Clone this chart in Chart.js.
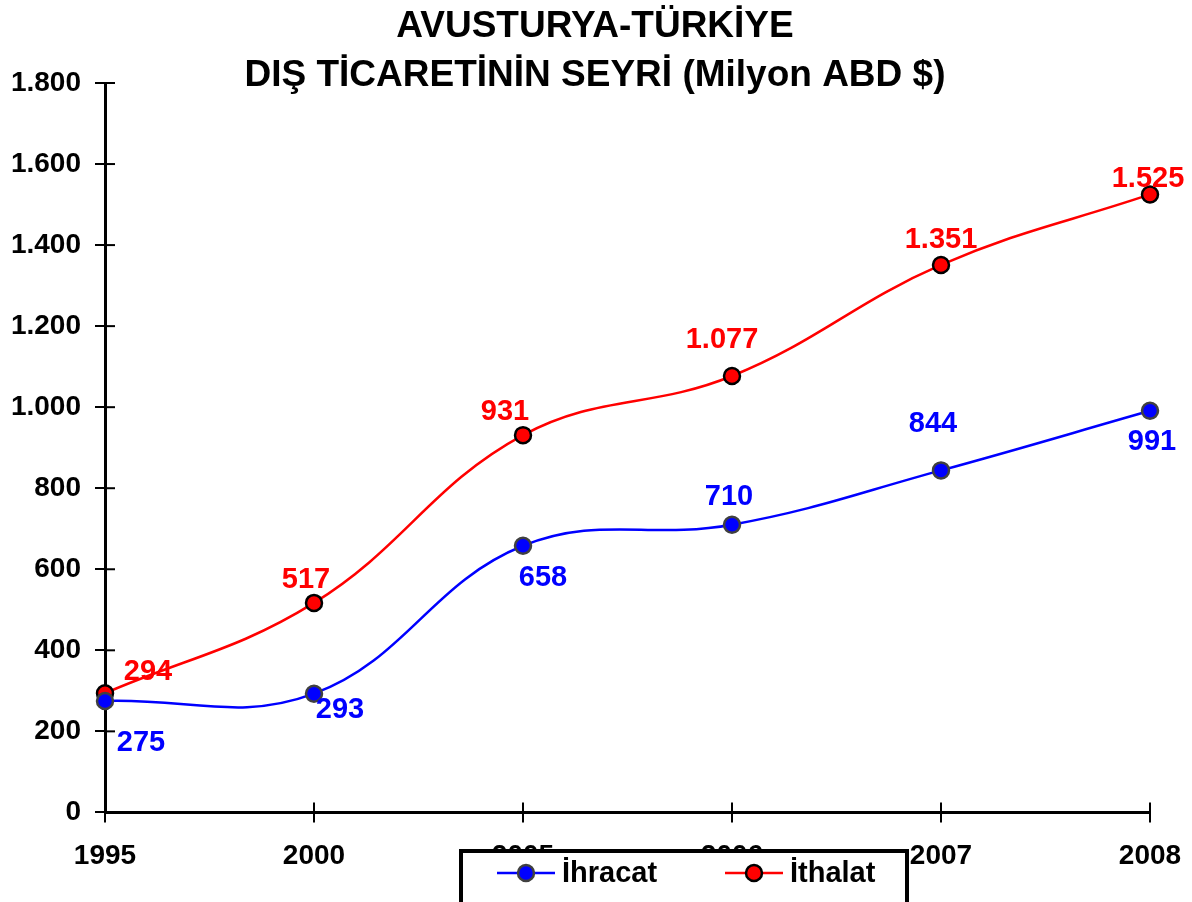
<!DOCTYPE html>
<html lang="tr">
<head>
<meta charset="utf-8">
<title>Avusturya-Türkiye Dış Ticareti</title>
<script src="https://cdn.jsdelivr.net/npm/chart.js@4/dist/chart.umd.min.js"></script>
<style>
    html, body { margin: 0; padding: 0; background: #fff; }
    #wrap { width: 1192px; height: 902px; position: relative; }
</style>
</head>
<body>
<div id="wrap"><canvas id="tradeChart" width="1192" height="902"></canvas></div>
<script>
// ----- DATI -----
const years = ['1995', '2000', '2005', '2006', '2007', '2008'];
const ihracat = [275, 293, 658, 710, 844, 991];
const ithalat = [294, 517, 931, 1077, 1351, 1525];
const yTicks = [0, 200, 400, 600, 800, 1000, 1200, 1400, 1600, 1800];
const titleLines = ['AVUSTURYA-TÜRKİYE', 'DIŞ TİCARETİNİN SEYRİ (Milyon ABD $)'];

// spostamento delle etichette rispetto al punto (dx, dy)
const ihracatLabelOffset = [[36, 42], [26, 16], [20, 32], [-3, -28], [-8, -46], [2, 31]];
const ithalatLabelOffset = [[43, -21], [-8, -23], [-18, -23], [-10, -36], [0, -25], [-2, -15]];

document.addEventListener('DOMContentLoaded', () => {
    const FONT = '"Liberation Sans", Arial, sans-serif';

    // numeri con punto per le migliaia (1.800)
    function fmt(v) {
        return String(v).replace(/\B(?=(\d{3})+(?!\d))/g, '.');
    }

    // titolo su due righe, sovrapposto all'area del grafico come nell'originale
    const titlePlugin = {
        id: 'titlePlugin',
        afterDraw(chart) {
            const ctx = chart.ctx;
            ctx.save();
            ctx.fillStyle = '#000';
            ctx.font = 'bold 37px ' + FONT;
            ctx.textAlign = 'center';
            ctx.textBaseline = 'middle';
            ctx.fillText(titleLines[0], 595, 27);
            ctx.fillText(titleLines[1], 595, 76);
            ctx.restore();
        }
    };

    // parte interna delle tacche (le tacche attraversano l'asse)
    const innerTicks = {
        id: 'innerTicks',
        afterDatasetsDraw(chart) {
            const ctx = chart.ctx;
            const x = chart.scales.x, y = chart.scales.y;
            ctx.save();
            ctx.strokeStyle = '#000';
            ctx.lineWidth = 2;
            yTicks.forEach(v => {
                const py = y.getPixelForValue(v);
                ctx.beginPath();
                ctx.moveTo(x.left, py);
                ctx.lineTo(x.left + 10, py);
                ctx.stroke();
            });
            years.forEach((_, i) => {
                const px = x.getPixelForValue(i);
                ctx.beginPath();
                ctx.moveTo(px, y.bottom);
                ctx.lineTo(px, y.bottom - 10);
                ctx.stroke();
            });
            ctx.restore();
        }
    };

    // etichette dei valori
    const valueLabels = {
        id: 'valueLabels',
        afterDatasetsDraw(chart) {
            const ctx = chart.ctx;
            ctx.save();
            ctx.font = 'bold 29px ' + FONT;
            ctx.textAlign = 'center';
            ctx.textBaseline = 'middle';
            const offsets = [ihracatLabelOffset, ithalatLabelOffset];
            chart.data.datasets.forEach((ds, di) => {
                const meta = chart.getDatasetMeta(di);
                ctx.fillStyle = ds.borderColor;
                meta.data.forEach((pt, i) => {
                    const o = offsets[di][i];
                    ctx.fillText(fmt(ds.data[i]), pt.x + o[0], pt.y + o[1]);
                });
            });
            ctx.restore();
        }
    };

    // legenda in un riquadro con bordo nero, sopra le etichette dell'asse x
    const boxLegend = {
        id: 'boxLegend',
        afterDraw(chart) {
            const ctx = chart.ctx;
            ctx.save();
            ctx.fillStyle = '#fff';
            ctx.fillRect(459, 849, 450, 60);
            ctx.strokeStyle = '#000';
            ctx.lineWidth = 4;
            ctx.strokeRect(461, 851, 446, 60);
            const items = [{ x: 497 }, { x: 725 }];
            ctx.font = 'bold 29px ' + FONT;
            ctx.textBaseline = 'middle';
            ctx.textAlign = 'left';
            chart.data.datasets.forEach((ds, i) => {
                const lx = items[i].x, ly = 873;
                ctx.strokeStyle = ds.borderColor;
                ctx.lineWidth = 2.5;
                ctx.beginPath();
                ctx.moveTo(lx, ly);
                ctx.lineTo(lx + 58, ly);
                ctx.stroke();
                ctx.beginPath();
                ctx.arc(lx + 29, ly, 8, 0, Math.PI * 2);
                ctx.fillStyle = ds.pointBackgroundColor;
                ctx.fill();
                ctx.lineWidth = 2.5;
                ctx.strokeStyle = ds.pointBorderColor;
                ctx.stroke();
                ctx.fillStyle = '#000';
                ctx.fillText(ds.label, lx + 65, ly + 1);
            });
            ctx.restore();
        }
    };

    const ctx = document.getElementById('tradeChart').getContext('2d');
    new Chart(ctx, {
        type: 'line',
        data: {
            labels: years,
            datasets: [{
                label: 'İhracat',
                data: ihracat,
                borderColor: '#0000ff',
                borderWidth: 2.5,
                tension: 0.4,
                pointRadius: 8,
                pointBackgroundColor: '#0000ff',
                pointBorderColor: '#404040',
                pointBorderWidth: 2.5
            }, {
                label: 'İthalat',
                data: ithalat,
                borderColor: '#ff0000',
                borderWidth: 2.5,
                tension: 0.4,
                pointRadius: 8,
                pointBackgroundColor: '#ff0000',
                pointBorderColor: '#000000',
                pointBorderWidth: 2.5
            }]
        },
        options: {
            responsive: false,
            animation: false,
            layout: { padding: { top: 83, right: 42, bottom: 12, left: 10 } },
            plugins: {
                legend: { display: false },
                title: { display: false },
                tooltip: { enabled: false }
            },
            scales: {
                x: {
                    offset: false,
                    afterFit(scale) {
                        // niente margine extra per l'ultima etichetta: l'asse finisce a x = 1150
                        scale.paddingRight = 0;
                        scale.paddingLeft = 0;
                    },
                    grid: { drawOnChartArea: false, drawTicks: true, tickLength: 10, color: '#000', lineWidth: 2 },
                    border: { color: '#000', width: 3 },
                    ticks: { color: '#000', font: { family: FONT, size: 28, weight: 'bold' }, padding: 17, maxRotation: 0 }
                },
                y: {
                    min: 0,
                    max: 1800,
                    afterBuildTicks(scale) {
                        scale.ticks = yTicks.map(v => ({ value: v }));
                    },
                    afterFit(scale) {
                        scale.width = 95; // asse verticale a x = 105 come nell'originale
                    },
                    grid: { drawOnChartArea: false, drawTicks: true, tickLength: 10, color: '#000', lineWidth: 2 },
                    border: { color: '#000', width: 3 },
                    ticks: {
                        color: '#000',
                        font: { family: FONT, size: 28, weight: 'bold' },
                        padding: 14,
                        callback: v => fmt(v)
                    }
                }
            }
        },
        plugins: [innerTicks, valueLabels, titlePlugin, boxLegend]
    });
});
</script>
</body>
</html>
